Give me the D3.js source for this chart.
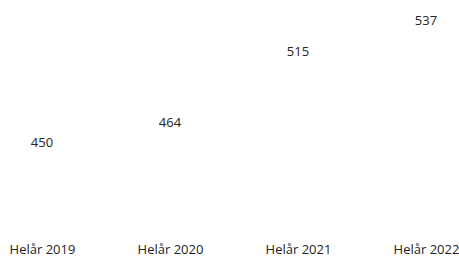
<!DOCTYPE html>
<html>
<head>
<meta charset="utf-8">
<script src="https://cdn.jsdelivr.net/npm/d3@7"></script>
<style>
  html, body { margin: 0; padding: 0; background: #ffffff; }
  svg { display: block; }
  text { font-family: "Open Sans", "Segoe UI", sans-serif; fill: #252423; }
</style>
</head>
<body>
<svg id="chart" width="459" height="258"></svg>
<script>
const categories = ["Helår 2019", "Helår 2020", "Helår 2021", "Helår 2022"];
const values = [450, 464, 515, 537];

const W = 459, H = 258;
const svg = d3.select("#chart");

const x = d3.scalePoint().domain(categories).range([42, 426]);
const y = d3.scaleLinear().domain([400, 540]).range([220, 24]);
const barW = 90;

const data = categories.map((c, i) => ({ c, v: values[i] }));

// bars (rendered in the background colour, as in the reference)
svg.append("g").selectAll("rect").data(data).join("rect")
  .attr("x", d => x(d.c) - barW / 2)
  .attr("y", d => y(d.v))
  .attr("width", barW)
  .attr("height", d => y(400) - y(d.v))
  .attr("fill", "#ffffff");

// value labels
svg.append("g").selectAll("text").data(data).join("text")
  .attr("x", d => x(d.c))
  .attr("y", d => y(d.v) - 8 + 4.6)
  .attr("text-anchor", "middle")
  .style("font-size", "13px")
  .text(d => d.v);

// category axis
const axis = d3.axisBottom(x).tickSize(0).tickPadding(0);
const gx = svg.append("g").attr("transform", "translate(0,245)").call(axis);
gx.select(".domain").remove();
gx.selectAll("text")
  .style("font-size", "13px")
  .attr("dy", "0.71em")
  .style("font-family", "\"Open Sans\", sans-serif")
  .attr("fill", "#252423");
</script>
</body>
</html>
